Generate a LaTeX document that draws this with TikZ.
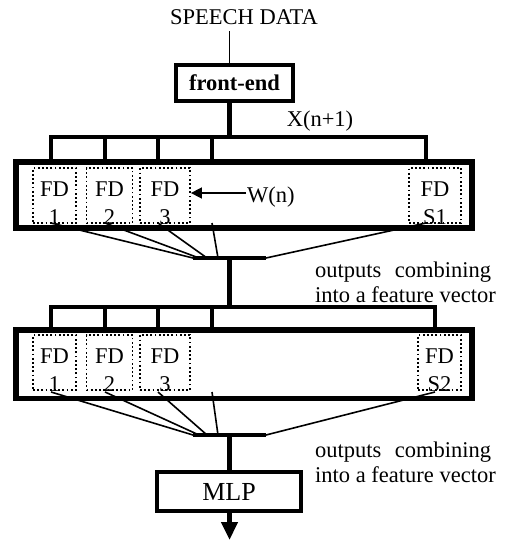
\documentclass[tikz,border=0pt]{standalone}
\usepackage{fontspec}
\setmainfont{Liberation Serif}
\usetikzlibrary{arrows.meta}

\tikzstyle{block}=[draw, line width=5.5pt, inner sep=0pt]
\tikzstyle{fd box}=[draw, line width=1.8pt, dash pattern=on 1.8pt off 2.4pt, minimum height=55pt, inner sep=0pt, text height=15pt, text depth=14pt, font=\fontsize{22.5}{24}\selectfont]
\tikzstyle{bus}=[draw, line width=4.5pt, line join=miter]
\tikzstyle{wire}=[draw, line width=1.6pt]
\tikzstyle{pointer}=[draw, line width=1.6pt, -{Triangle[width=11pt,length=11pt]}]
\tikzstyle{note}=[anchor=west, align=left, inner sep=0pt]
\tikzset{fd number/.style={path picture={\node[anchor=base, inner sep=0pt] at ([yshift=-56pt]path picture bounding box.north) {#1};}}}

\begin{document}
\begin{tikzpicture}[x=1pt, y=-1pt, font=\fontsize{22.5}{25}\selectfont]
        \useasboundingbox (0,0) rectangle (523,540);
        \coordinate (trunk) at (229.5,0);
        \node[anchor=base, inner sep=0pt] (speech) at (244,25) {SPEECH DATA};
        \node[block, line width=4.3pt, minimum width=117pt, minimum height=36pt, font=\fontsize{22.5}{25}\selectfont\bfseries] (front) at (234.5,83) {front-end};
        \path[wire] ([yshift=-6pt]speech.south -| trunk) -- (front.north -| trunk);
        % first layer of FD units
        \node[block, minimum width=456pt, minimum height=66pt] (layer1) at (244,195) {};
        \foreach \x/\w/\num/\name in {54.5/43/1/fd11, 109.5/46/2/fd12, 165/50/3/fd13, 435/52/S1/fd14}
            \node[fd box, minimum width=\w pt, fd number=\num] (\name) at (\x,195.5) {FD};
        \coordinate (bus1) at (0,137);
        \foreach \x [count=\i] in {51,105,158,212,426}
            \coordinate (t1\i) at (\x,162);
        \path[bus] (t11) -- (t11 |- bus1) -| (t15);
        \foreach \i in {2,3,4}
            \path[bus] (t1\i) -- (t1\i |- bus1);
        \path[bus] (front.south -| trunk) -- (trunk |- bus1);
        \node[anchor=base, inner sep=0pt] (xin) at (320,127) {X(n+1)};
        \node[anchor=base west, inner sep=1pt] (wn) at (246,202) {W(n)};
        \coordinate (wy) at (0,193);
        \path[pointer] (wn.west |- wy) -- (fd13.east |- wy);
        \foreach \x/\e [count=\i] in {51/193, 105/199, 158/207, 212/218, 426/266} {
            \coordinate (s1\i) at (\x,223);
            \coordinate (e1\i) at (\e,258);
            \path[wire] (s1\i) -- (e1\i);
        }
        \path[bus] (e11) -- (e15);
        \node[note] (comb1) at (315,282) {outputs\hspace{0.6em}combining\\into a feature vector};
        % second layer of FD units
        \node[block, minimum width=456pt, minimum height=68.5pt] (layer2) at (244,364.25) {};
        \foreach \x/\w/\num/\name in {54.5/43/1/fd21, 109.5/46/2/fd22, 165/50/3/fd23, 439.5/43/S2/fd24}
            \node[fd box, minimum width=\w pt, fd number=\num] (\name) at (\x,362.5) {FD};
        \coordinate (bus2) at (0,307);
        \foreach \x [count=\i] in {51,105,158,212,435}
            \coordinate (t2\i) at (\x,330);
        \path[bus] (t21) -- (t21 |- bus2) -| (t25);
        \foreach \i in {2,3,4}
            \path[bus] (t2\i) -- (t2\i |- bus2);
        \path[bus] (e11 -| trunk) -- (trunk |- bus2);
        \foreach \x/\e [count=\i] in {51/193, 105/199, 158/207, 212/218, 435/266} {
            \coordinate (s2\i) at (\x,392);
            \coordinate (e2\i) at (\e,435);
            \path[wire] (s2\i) -- (e2\i);
        }
        \path[bus] (e21) -- (e25);
        \node[note] (comb2) at (315,462.5) {outputs\hspace{0.6em}combining\\into a feature vector};
        % classifier
        \node[block, line width=4.5pt, minimum width=144pt, minimum height=39pt, font=\fontsize{26}{28}\selectfont] (mlp) at (229,491.5) {MLP};
        \path[bus] (e21 -| trunk) -- (mlp.north -| trunk);
        \coordinate (out) at (229.5,540);
        \path[bus, -{Triangle[width=16pt,length=18pt]}] (mlp.south -| trunk) -- (out);
    \end{tikzpicture}
\end{document}
